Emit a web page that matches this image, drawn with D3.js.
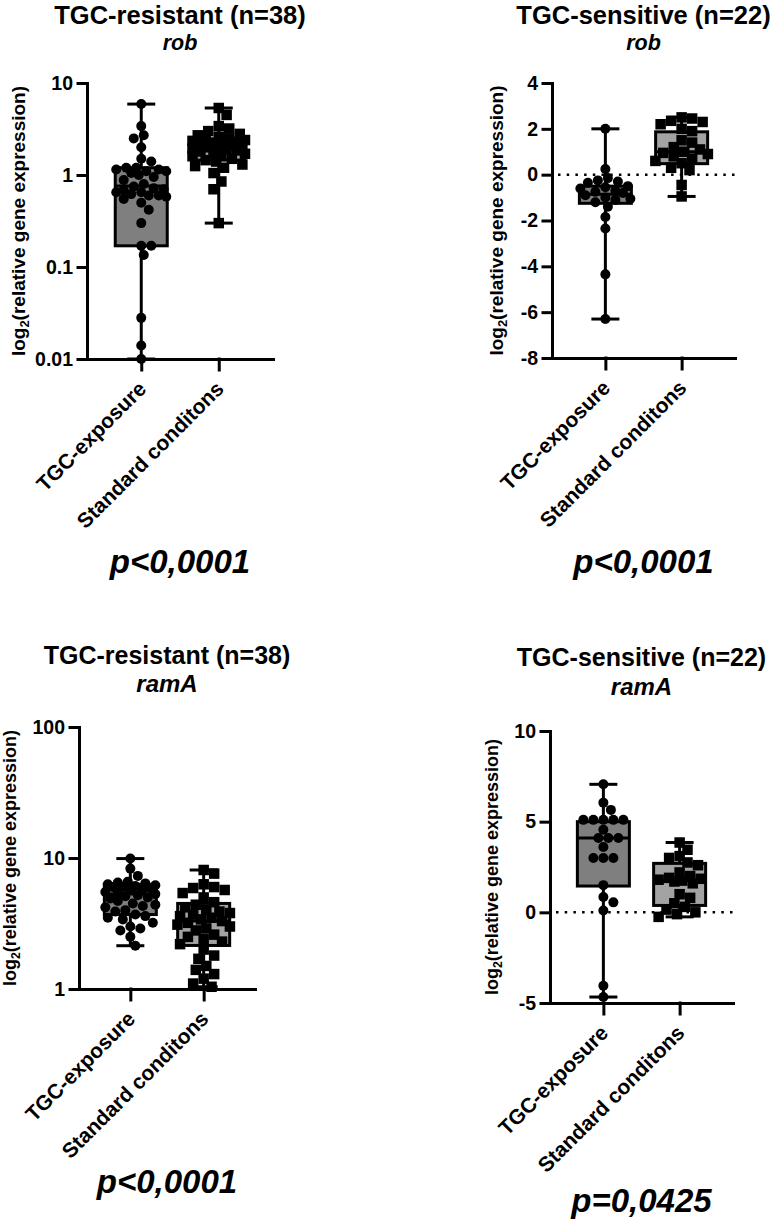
<!DOCTYPE html>
<html>
<head>
<meta charset="utf-8">
<script src="https://cdn.jsdelivr.net/npm/d3@7"></script>
<style>
  body { margin: 0; background: #fff; }
  svg text { font-family: "Liberation Sans", Arial, Helvetica, sans-serif; font-weight: bold; fill: #000; }
</style>
</head>
<body>
<svg id="fig" width="776" height="1227"></svg>
<script>
const groups = ["TGC-exposure", "Standard conditons"];

// rob, TGC-resistant (n=38), log axis
const robResTGC = [5.9, 3.4, 2.7, 2.5, 2.0, 1.5, 1.4, 1.2, 1.2, 1.15, 1.15, 1.1, 1.1, 1.05, 1.0, 0.95, 0.88, 0.8, 0.75,
  0.72, 0.7, 0.68, 0.65, 0.65, 0.62, 0.6, 0.6, 0.58, 0.55, 0.5, 0.42, 0.3, 0.17, 0.17, 0.135, 0.028, 0.014, 0.01];
const robResStd = [5.35, 4.5, 3.4, 3.2, 3.0, 2.8, 2.7, 2.6, 2.5, 2.45, 2.4, 2.35, 2.3, 2.25, 2.2, 2.15, 2.1, 2.05, 2.0,
  2.0, 1.95, 1.9, 1.85, 1.8, 1.75, 1.7, 1.65, 1.6, 1.5, 1.45, 1.4, 1.3, 1.25, 1.2, 1.05, 0.85, 0.7, 0.3];
// box stats: [min, q1, median, q3, max]
const robResBoxTGC = [0.01, 0.17, 0.76, 1.2, 5.9];
const robResBoxStd = [0.3, 1.45, 2.0, 2.45, 5.35];

// rob, TGC-sensitive (n=22), linear axis
const robSensTGC = [2.0, 0.25, -0.15, -0.25, -0.3, -0.35, -0.5, -0.55, -0.6, -0.7, -0.75, -0.8, -0.9, -1.0, -1.05,
  -1.1, -1.2, -1.4, -1.85, -2.35, -4.35, -6.3];
const robSensStd = [2.5, 2.45, 2.35, 2.3, 2.2, 2.0, 1.9, 1.5, 1.4, 1.2, 1.1, 1.0, 0.95, 0.9, 0.8, 0.7, 0.6, 0.5,
  0.3, 0.2, -0.45, -0.95];
const robSensBoxTGC = [-6.3, -1.25, -0.85, -0.5, 2.0];
const robSensBoxStd = [-0.95, 0.48, 1.0, 1.87, 2.5];

// ramA, TGC-resistant (n=38), log axis
const ramResTGC = [9.9, 8.3, 7.3, 6.6, 6.5, 6.4, 6.3, 6.2, 6.1, 6.0, 6.0, 5.9, 5.8, 5.7, 5.5, 5.4, 5.3, 5.2, 5.1,
  5.0, 4.9, 4.7, 4.5, 4.4, 4.3, 4.2, 4.0, 3.9, 3.7, 3.6, 3.5, 3.4, 3.2, 3.0, 2.9, 2.8, 2.5, 2.14];
const ramResStd = [8.1, 7.6, 6.3, 6.0, 5.9, 5.7, 5.4, 5.0, 4.6, 4.4, 4.2, 4.0, 3.9, 3.8, 3.7, 3.6, 3.5, 3.4, 3.3,
  3.2, 3.1, 3.0, 2.9, 2.8, 2.6, 2.5, 2.4, 2.3, 2.2, 2.0, 1.8, 1.7, 1.5, 1.4, 1.3, 1.2, 1.1, 1.04];
const ramResBoxTGC = [2.14, 3.7, 5.3, 6.3, 9.9];
const ramResBoxStd = [1.04, 2.15, 3.3, 4.5, 8.1];

// ramA, TGC-sensitive (n=22), linear axis
const ramSensTGC = [7.06, 6.05, 5.65, 5.1, 5.1, 5.1, 5.1, 5.1, 4.55, 4.1, 4.1, 4.1, 3.6, 3.0, 3.0, 3.0, 1.5,
  0.85, 0.55, 0.1, -4.05, -4.67];
const ramSensStd = [3.85, 3.45, 3.1, 3.0, 2.75, 2.6, 2.2, 2.0, 1.9, 1.85, 1.8, 1.75, 1.7, 1.6, 1.0, 0.8, 0.5,
  0.3, 0.15, 0.0, -0.1, -0.25];
const ramSensBoxTGC = [-4.67, 1.45, 4.1, 5.0, 7.06];
const ramSensBoxStd = [-0.25, 0.38, 1.75, 2.7, 3.85];

const robResTicks = [0.01, 0.1, 1, 10];
const robSensTicks = [-8, -6, -4, -2, 0, 2, 4];
const ramResTicks = [1, 10, 100];
const ramSensTicks = [-5, 0, 5, 10];

const panels = [
  { title: "TGC-resistant (n=38)", gene: "rob", log: true, domain: [0.01, 10], ticks: robResTicks,
    values: [robResTGC, robResStd], boxes: [robResBoxTGC, robResBoxStd], p: "p<0,0001", zero: false,
    left: 87, right: 273, top: 83, bottom: 359, titleY: 24, titleSize: 25.5, geneY: 49.5, geneSize: 21.5,
    labelX: 25, labelSize: 19, pY: 573 },
  { title: "TGC-sensitive (n=22)", gene: "rob", log: false, domain: [-8, 4], ticks: robSensTicks,
    values: [robSensTGC, robSensStd], boxes: [robSensBoxTGC, robSensBoxStd], p: "p<0,0001", zero: true,
    left: 552, right: 735, top: 83, bottom: 358, titleY: 24, titleSize: 25.5, geneY: 49.5, geneSize: 21.5,
    labelX: 503, labelSize: 19, pY: 573 },
  { title: "TGC-resistant (n=38)", gene: "ramA", log: true, domain: [1, 100], ticks: ramResTicks,
    values: [ramResTGC, ramResStd], boxes: [ramResBoxTGC, ramResBoxStd], p: "p<0,0001", zero: false,
    left: 79, right: 255, top: 727, bottom: 989, titleY: 664, titleSize: 25, geneY: 692, geneSize: 24,
    labelX: 16, labelSize: 18, pY: 1193 },
  { title: "TGC-sensitive (n=22)", gene: "ramA", log: false, domain: [-5, 10], ticks: ramSensTicks,
    values: [ramSensTGC, ramSensStd], boxes: [ramSensBoxTGC, ramSensBoxStd], p: "p=0,0425", zero: true,
    left: 550, right: 733, top: 731, bottom: 1003, titleY: 666, titleSize: 25, geneY: 695, geneSize: 24,
    labelX: 498, labelSize: 18, pY: 1212 }
];

const fills = ["#7f7f7f", "#a3a3a3"];
const boxW = 52, capW = 28, dotR = 5, sqSide = 10.5;

const svg = d3.select("#fig");

// simple beeswarm: place points, sorted by y, at the offset nearest the centre that does not overlap
function swarm(vals, y, cx, r, maxHalf) {
  const placed = [];
  const pts = vals.map(v => ({ v: v, y: y(v) })).sort((a, b) => a.y - b.y);
  const step = r * 0.5;
  pts.forEach(p => {
    let bestOff = 0, bestD = -1;
    for (let k = 0; k < 60; k++) {
      const off = (k % 2 ? 1 : -1) * Math.ceil(k / 2) * step;
      if (Math.abs(off) > maxHalf) continue;
      let dmin = Infinity;
      placed.forEach(q => {
        const d = Math.hypot(q.x - (cx + off), q.y - p.y);
        if (d < dmin) dmin = d;
      });
      if (dmin >= 2 * r * 0.95) { bestOff = off; break; }
      if (dmin > bestD) { bestD = dmin; bestOff = off; }
    }
    p.x = cx + bestOff;
    placed.push(p);
  });
  return placed;
}

panels.forEach(function (P) {
  const g = svg.append("g");
  const cxMid = (P.left + P.right) / 2;

  const y = (P.log ? d3.scaleLog() : d3.scaleLinear()).domain(P.domain).range([P.bottom, P.top]);
  const x = d3.scalePoint().domain(groups).range([P.left, P.right]).padding(0.7);

  // titles
  g.append("text").attr("x", cxMid).attr("y", P.titleY).attr("text-anchor", "middle")
    .attr("font-size", P.titleSize).text(P.title);
  g.append("text").attr("x", cxMid).attr("y", P.geneY).attr("text-anchor", "middle")
    .attr("font-size", P.geneSize).attr("font-style", "italic").text(P.gene);

  // zero reference line
  if (P.zero) {
    g.append("line").attr("x1", P.left + 6).attr("x2", P.right).attr("y1", y(0)).attr("y2", y(0))
      .attr("stroke", "#000").attr("stroke-width", 2.5).attr("stroke-dasharray", "2.5,6.2");
  }

  // boxes and whiskers
  groups.forEach(function (grp, i) {
    const b = P.boxes[i], cx = x(grp);
    const bg = g.append("g");
    bg.append("line").attr("x1", cx).attr("x2", cx).attr("y1", y(b[4])).attr("y2", y(b[0]))
      .attr("stroke", "#000").attr("stroke-width", 3);
    [b[0], b[4]].forEach(v => {
      bg.append("line").attr("x1", cx - capW / 2).attr("x2", cx + capW / 2).attr("y1", y(v)).attr("y2", y(v))
        .attr("stroke", "#000").attr("stroke-width", 3);
    });
    bg.append("rect").attr("x", cx - boxW / 2).attr("width", boxW)
      .attr("y", y(b[3])).attr("height", y(b[1]) - y(b[3]))
      .attr("fill", fills[i]).attr("stroke", "#000").attr("stroke-width", 3);
    bg.append("line").attr("x1", cx - boxW / 2).attr("x2", cx + boxW / 2).attr("y1", y(b[2])).attr("y2", y(b[2]))
      .attr("stroke", "#000").attr("stroke-width", 3);

    // points
    const pts = swarm(P.values[i], y, cx, i === 0 ? dotR : sqSide / 2, 27);
    if (i === 0) {
      bg.selectAll("circle").data(pts).join("circle")
        .attr("cx", d => d.x).attr("cy", d => d.y).attr("r", dotR).attr("fill", "#000");
    } else {
      bg.selectAll("rect.pt").data(pts).join("rect").attr("class", "pt")
        .attr("x", d => d.x - sqSide / 2).attr("y", d => d.y - sqSide / 2)
        .attr("width", sqSide).attr("height", sqSide).attr("fill", "#000");
    }
  });

  // y axis
  const yAxis = d3.axisLeft(y).tickValues(P.ticks).tickSize(9).tickPadding(5).tickSizeOuter(0)
    .tickFormat(d => String(d));
  const ya = g.append("g").attr("transform", "translate(" + P.left + ",0)").call(yAxis);
  ya.attr("font-size", 19.5).attr("font-family", null);
  ya.selectAll(".domain, .tick line").attr("stroke", "#000").attr("stroke-width", 3)
    .attr("stroke-linecap", "square");

  // x axis
  const xAxis = d3.axisBottom(x).tickSize(11).tickSizeOuter(0).tickFormat("");
  const xa = g.append("g").attr("transform", "translate(0," + P.bottom + ")").call(xAxis);
  xa.selectAll(".domain, .tick line").attr("stroke", "#000").attr("stroke-width", 3)
    .attr("stroke-linecap", "square");

  groups.forEach(function (grp) {
    g.append("text").attr("text-anchor", "end").attr("font-size", 21).attr("dy", "0.35em")
      .attr("transform", "translate(" + (x(grp) + 1) + "," + (P.bottom + 26) + ") rotate(-45)")
      .text(grp);
  });

  // y axis title
  const yl = g.append("text").attr("text-anchor", "middle").attr("font-size", P.labelSize)
    .attr("transform", "translate(" + P.labelX + "," + ((P.top + P.bottom) / 2) + ") rotate(-90)");
  yl.append("tspan").text("log");
  yl.append("tspan").attr("font-size", P.labelSize * 0.68).attr("dy", 4).text("2");
  yl.append("tspan").attr("dy", -4).text("(relative gene expression)");

  // p value
  g.append("text").attr("x", cxMid).attr("y", P.pY).attr("text-anchor", "middle")
    .attr("font-size", 33).attr("font-style", "italic").text(P.p);
});
</script>
</body>
</html>
